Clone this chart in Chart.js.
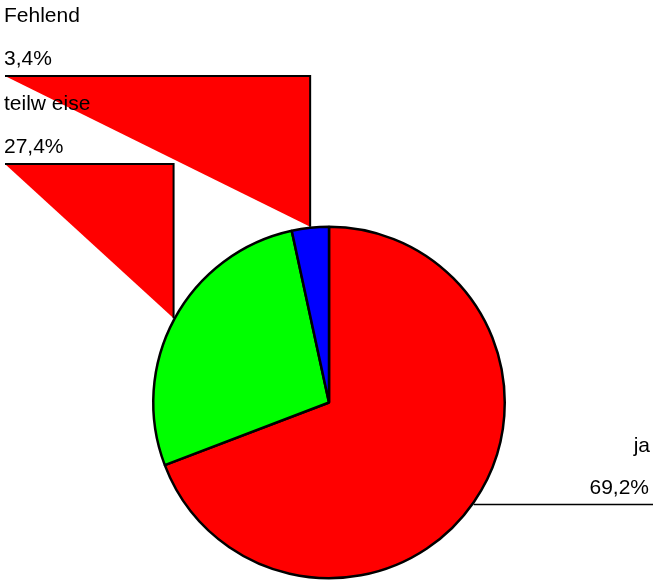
<!DOCTYPE html>
<html>
<head>
<meta charset="utf-8">
<script src="https://cdn.jsdelivr.net/npm/chart.js@4/dist/chart.umd.min.js"></script>
<style>
html,body{margin:0;padding:0;background:#fff;}
canvas{display:block;}
</style>
</head>
<body>
<canvas id="c" width="653" height="580"></canvas>
<script>
const categories = ["ja", "teilw eise", "Fehlend"];
const values = [69.2, 27.4, 3.4];
const valueLabels = ["69,2%", "27,4%", "3,4%"];
const colors = ["#FF0000", "#00FF00", "#0000FF"];

const FONT = "21px 'Liberation Sans', Arial, sans-serif";

// label placement: side and line y for each category
const labelSide = ["right", "left", "left"];
const labelLineY = [504, 164, 76];

const leaderPlugin = {
  id: 'leaders',
  beforeDatasetsDraw(chart) {
    const ctx = chart.ctx;
    const arcs = chart.getDatasetMeta(0).data;
    ctx.save();
    arcs.forEach((arc, i) => {
      const R = arc.outerRadius + 1;
      const ly = labelLineY[i];
      if (labelSide[i] === 'left') {
        const mid = (arc.startAngle + arc.endAngle) / 2;
        const px = arc.x + Math.cos(mid) * R;
        const py = arc.y + Math.sin(mid) * R;
        ctx.beginPath();
        ctx.moveTo(5, ly);
        ctx.lineTo(px, ly);
        ctx.lineTo(px, py);
        ctx.closePath();
        ctx.fillStyle = '#FF0000';
        ctx.fill();
        ctx.beginPath();
        ctx.moveTo(5, ly);
        ctx.lineTo(px, ly);
        ctx.lineTo(px, py);
        ctx.strokeStyle = '#000';
        ctx.lineWidth = 2;
        ctx.stroke();
      }
    });
    ctx.restore();
  },
  afterDatasetsDraw(chart) {
    const ctx = chart.ctx;
    const arcs = chart.getDatasetMeta(0).data;
    const W = chart.width;
    ctx.save();
    ctx.font = FONT;
    ctx.fillStyle = '#000';
    ctx.textBaseline = 'alphabetic';
    arcs.forEach((arc, i) => {
      const R = arc.outerRadius + 1;
      const ly = labelLineY[i];
      if (labelSide[i] === 'right') {
        const dy = ly - arc.y;
        const sx = arc.x + Math.sqrt(Math.max(R * R - dy * dy, 0));
        ctx.beginPath();
        ctx.moveTo(sx, ly + 0.5);
        ctx.lineTo(W, ly + 0.5);
        ctx.strokeStyle = '#000';
        ctx.lineWidth = 1.5;
        ctx.stroke();
        ctx.textAlign = 'right';
        ctx.fillText(categories[i], W - 3, ly - 52);
        ctx.fillText(valueLabels[i], W - 4, ly - 10);
      } else {
        ctx.textAlign = 'left';
        ctx.fillText(categories[i], 4, ly - 54);
        ctx.fillText(valueLabels[i], 4, ly - 11);
      }
    });
    ctx.restore();
  }
};

new Chart(document.getElementById('c'), {
  type: 'pie',
  data: {
    labels: categories,
    datasets: [{
      data: values,
      backgroundColor: colors,
      borderColor: '#000',
      borderWidth: 2.5
    }]
  },
  options: {
    responsive: false,
    devicePixelRatio: 1,
    animation: false,
    layout: { padding: { left: 152, right: 147, top: 225, bottom: 0 } },
    plugins: { legend: { display: false }, tooltip: { enabled: false } }
  },
  plugins: [leaderPlugin]
});
</script>
</body>
</html>
